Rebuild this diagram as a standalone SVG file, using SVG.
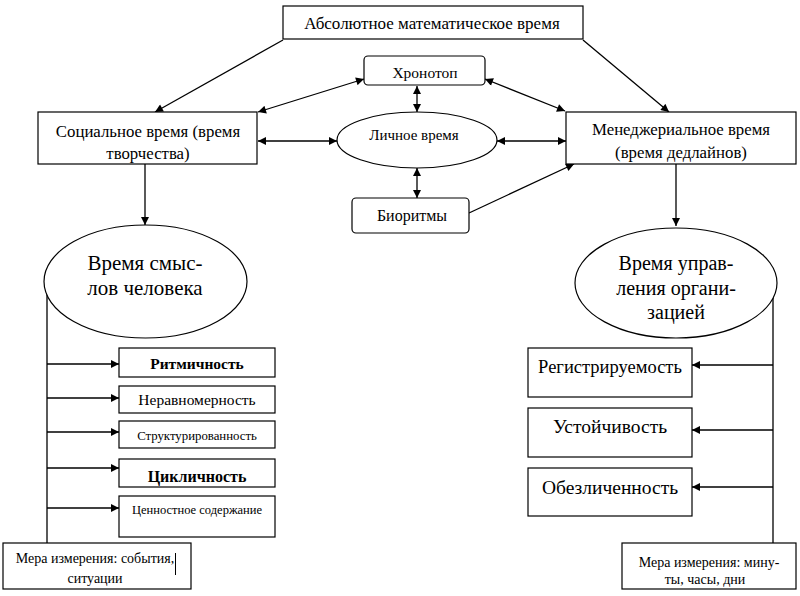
<svg xmlns="http://www.w3.org/2000/svg" width="800" height="596" viewBox="0 0 800 596">
<style>
.b{fill:#fff;stroke:#000;stroke-width:1.2}
text{font-family:'Liberation Serif','Times New Roman','DejaVu Serif',serif;fill:#000;text-anchor:middle}
.c{fill:none;stroke:#000;stroke-width:1.3}
.ce{marker-end:url(#ah)}
.cb{marker-start:url(#ahs);marker-end:url(#ah)}
</style>
<defs>
<marker id="ah" viewBox="0 0 10 10" refX="10" refY="5" markerWidth="9" markerHeight="8" markerUnits="userSpaceOnUse" orient="auto"><path d="M0,0L10,5L0,10z" fill="#000"/></marker>
<marker id="ahs" viewBox="0 0 10 10" refX="0" refY="5" markerWidth="9" markerHeight="8" markerUnits="userSpaceOnUse" orient="auto"><path d="M10,0L0,5L10,10z" fill="#000"/></marker>
</defs>
<rect width="800" height="596" fill="#fff"/>
<g id="connectors">
<line class="c ce" x1="283" y1="40" x2="155" y2="112"/>
<line class="c ce" x1="583" y1="40" x2="669" y2="112"/>
<line class="c cb" x1="258" y1="112" x2="364" y2="79"/>
<line class="c cb" x1="485" y1="79" x2="565" y2="111"/>
<line class="c cb" x1="417" y1="86" x2="417" y2="112"/>
<line class="c cb" x1="417" y1="168" x2="417" y2="198"/>
<line class="c cb" x1="258" y1="141" x2="337" y2="141"/>
<line class="c cb" x1="497" y1="141" x2="566" y2="141"/>
<line class="c ce" x1="469" y1="213" x2="574" y2="164"/>
<line class="c ce" x1="145" y1="164" x2="145" y2="225"/>
<line class="c ce" x1="676" y1="164" x2="676" y2="226"/>
<line class="c" x1="47" y1="293" x2="47" y2="543"/>
<line class="c ce" x1="47" y1="364" x2="119" y2="364"/>
<line class="c ce" x1="47" y1="398" x2="119" y2="398"/>
<line class="c ce" x1="47" y1="432" x2="119" y2="432"/>
<line class="c ce" x1="47" y1="468" x2="119" y2="468"/>
<line class="c ce" x1="47" y1="508" x2="119" y2="508"/>
<line class="c" x1="773" y1="292" x2="773" y2="543"/>
<line class="c ce" x1="773" y1="365" x2="692" y2="365"/>
<line class="c ce" x1="773" y1="430" x2="692" y2="430"/>
<line class="c ce" x1="773" y1="487" x2="692" y2="487"/>
</g>
<g font-family="'Liberation Serif','Times New Roman','DejaVu Serif',serif" text-anchor="middle">
<g id="absolute">
<rect class="b" x="283" y="6" width="300" height="33"/>
<text x="432" y="29" font-size="17">Абсолютное математическое время</text>
</g>
<g id="chronotop">
<rect class="b" x="364" y="56" width="121" height="29" rx="4"/>
<text x="425" y="78" font-size="15.5">Хронотоп</text>
</g>
<g id="social">
<rect class="b" x="38" y="112" width="219" height="52"/>
<text x="148" y="137" font-size="16.8">Социальное время (время</text>
<text x="148" y="159" font-size="16.8">творчества)</text>
</g>
<g id="personal">
<ellipse class="b" cx="417" cy="140" rx="80" ry="28"/>
<text x="414" y="140" font-size="15">Личное время</text>
</g>
<g id="managerial">
<rect class="b" x="566" y="112" width="230" height="52"/>
<text x="681" y="135" font-size="16.8">Менеджериальное время</text>
<text x="681" y="158" font-size="16.8">(время дедлайнов)</text>
</g>
<g id="biorhythms">
<rect class="b" x="352" y="198" width="117" height="35" rx="4"/>
<text x="412" y="221" font-size="16">Биоритмы</text>
</g>
<g id="meaning">
<ellipse class="b" cx="145.5" cy="281.5" rx="101.5" ry="56.5"/>
<text x="145" y="270" font-size="21">Время смыс-</text>
<text x="145" y="295" font-size="21">лов человека</text>
</g>
<g id="management">
<ellipse class="b" cx="676" cy="283" rx="101" ry="55"/>
<text x="676" y="270" font-size="20">Время управ-</text>
<text x="676" y="295" font-size="20">ления органи-</text>
<text x="676" y="319" font-size="20">зацией</text>
</g>
<g id="rhythm">
<rect class="b" x="119" y="348" width="156" height="29"/>
<text x="197" y="369" font-size="15.5" font-weight="bold">Ритмичность</text>
</g>
<g id="unevenness">
<rect class="b" x="119" y="386" width="156" height="27"/>
<text x="197" y="405" font-size="15.5">Неравномерность</text>
</g>
<g id="structure">
<rect class="b" x="119" y="421" width="156" height="27"/>
<text x="197" y="440" font-size="12.8">Структурированность</text>
</g>
<g id="cyclic">
<rect class="b" x="119" y="459" width="156" height="28"/>
<text x="197" y="482" font-size="16" font-weight="bold">Цикличность</text>
</g>
<g id="value">
<rect class="b" x="119" y="496" width="156" height="41"/>
<text x="197" y="514" font-size="12.5">Ценностное содержание</text>
</g>
<g id="measure-left">
<rect class="b" x="3" y="543" width="188" height="46"/>
<text x="95" y="563" font-size="14">Мера измерения: события,</text>
<text x="95" y="583" font-size="14">ситуации</text>
<line x1="175.5" y1="553" x2="175.5" y2="575" stroke="#000" stroke-width="1"/>
</g>
<g id="registr">
<rect class="b" x="528" y="348" width="164" height="49"/>
<text x="610" y="373" font-size="18.5">Регистрируемость</text>
</g>
<g id="stability">
<rect class="b" x="528" y="408" width="164" height="49"/>
<text x="610" y="433" font-size="19.5">Устойчивость</text>
</g>
<g id="impersonal">
<rect class="b" x="528" y="468" width="164" height="48"/>
<text x="610" y="494" font-size="19.5">Обезличенность</text>
</g>
<g id="measure-right">
<rect class="b" x="622" y="543" width="174" height="46"/>
<text x="709" y="567" font-size="14">Мера измерения: мину-</text>
<text x="705" y="584" font-size="14">ты, часы, дни</text>
</g>
</g>
</svg>
